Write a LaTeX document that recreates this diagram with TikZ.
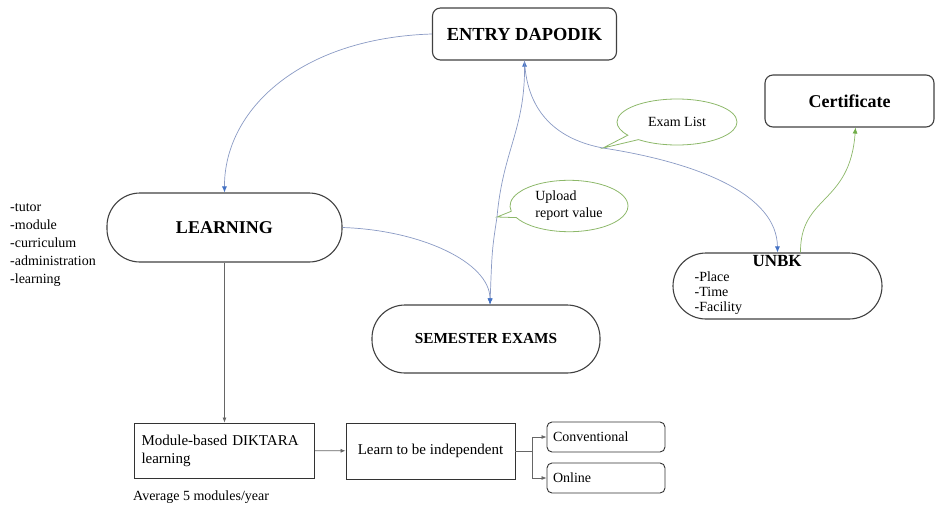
\documentclass[tikz,border=0pt]{standalone}
\usepackage{fontspec}
\setmainfont{Liberation Serif}
\usepackage{xcolor}
\usepackage{tikz}
\usetikzlibrary{shapes, shapes.callouts, arrows.meta, positioning, calc}

\definecolor{boxgray}{HTML}{404040}
\definecolor{linkblue}{HTML}{8A9AC4}
\definecolor{tipblue}{HTML}{4472C4}
\definecolor{calloutgreen}{HTML}{8DB86A}
\definecolor{tipgreen}{HTML}{70AD47}

\begin{document}
\begin{tikzpicture}[
    x=1pt, y=-1pt,
    pill/.style={rectangle, draw=boxgray, line width=1.1pt, rounded corners=33pt, align=center, font=\fontsize{18}{21}\selectfont\bfseries},
    card/.style={rectangle, draw=boxgray, line width=1.1pt, rounded corners=8pt, align=center, font=\fontsize{18}{21}\selectfont\bfseries},
    plainbox/.style={rectangle, draw=black!80, line width=0.9pt, font=\fontsize{15}{18}\selectfont},
    smallbox/.style={rectangle, draw=black!80, line width=0.9pt, rounded corners=5pt, align=left, font=\fontsize{14}{17}\selectfont},
    bubble/.style={ellipse callout, draw=calloutgreen, line width=0.8pt, align=left, font=\fontsize{14}{17}\selectfont},
    link/.style={>={Latex[length=6pt, width=5pt, color=tipblue]}, ->, draw=linkblue, line width=0.7pt},
    greenlink/.style={-{Latex[length=6pt, width=5pt, color=tipgreen]}, draw=calloutgreen, line width=0.7pt},
    flow/.style={-{Latex[length=5pt, width=4pt]}, draw=black!60, line width=0.7pt}
]
\useasboundingbox (0,0) rectangle (937,507);

% Nodes
\node[card, minimum width=184pt, minimum height=52pt, font=\fontsize{18.4}{21}\selectfont\bfseries] (entry) at (524.5,34) {ENTRY DAPODIK};
\node[pill, minimum width=235pt, minimum height=69pt] (learning) at (224.5,227.5) {LEARNING};
\node[pill, minimum width=228pt, minimum height=68pt, font=\fontsize{15.3}{18}\selectfont\bfseries] (semester) at (486,339) {SEMESTER EXAMS};
\node[pill, minimum width=209pt, minimum height=66pt] (unbk) at (777.5,286) {};
\node[anchor=north west, inner sep=0pt, text width=165pt, align=left, font=\fontsize{14}{15}\selectfont] (unbklist)
    at ([xshift=22pt, yshift=-3pt]unbk.north west)
    {\makebox[\hsize]{\fontsize{17}{17}\selectfont\bfseries UNBK}\\-Place\\-Time\\-Facility};
\node[card, minimum width=169pt, minimum height=52pt] (certificate) at (849.5,101) {Certificate};

\node[anchor=north west, align=left, inner sep=0pt, font=\fontsize{14}{18}\selectfont] (topics) at (10,203)
    {-tutor\\-module\\-curriculum\\-administration\\-learning};

\node[plainbox, minimum width=180pt, minimum height=55pt, text width=166pt, align=left] (module) at (224.5,450.5)
    {Module-based DIKTARA\\learning};
\node[anchor=base west, inner sep=0pt, font=\fontsize{14}{17}\selectfont] (average) at (133,500) {Average 5 modules/year};
\node[plainbox, minimum width=169pt, minimum height=56pt, align=center] (independent) at (430.5,451) {Learn to be independent};
\node[smallbox, minimum width=118pt, minimum height=30pt, text width=106pt] (conventional) at (606,437) {Conventional};
\node[smallbox, minimum width=118pt, minimum height=30pt, text width=106pt] (online) at (606,478) {Online};

% Callouts
\coordinate (examtip) at (603,148);
\coordinate (uploadtip) at (497,217);
\node[bubble, minimum width=120pt, minimum height=46pt, callout absolute pointer={(examtip)}] (examlist) at (677,122) {Exam List};
\node[bubble, minimum width=118pt, minimum height=50pt, callout absolute pointer={(uploadtip)}] (upload) at (569,206) {Upload\\report value};

% Connections
\draw[link] (entry.west) .. controls (300,38) and (224,110) .. (learning.north);
\draw[link] (learning.east) .. controls (420,230) and (490,262) .. ([xshift=4pt]semester.north);
\draw[link, <->] (entry.south) .. controls (525,130) and (503,150) .. (uploadtip)
    .. controls (492,250) .. ([xshift=4pt]semester.north);
\draw[link] (entry.south) .. controls (527,115) and (560,140) .. (examtip)
    .. controls (700,163) and (777,195) .. (unbk.north);
\draw[greenlink] ([xshift=23pt]unbk.north) .. controls (800,195) and (850,205) .. ([xshift=6pt]certificate.south);

\draw[flow] (learning.south) -- (learning.south |- module.north);
\draw[flow] (module) -- (independent);
\draw[flow] (independent.east) -- ++(17,0) |- (conventional.west);
\draw[flow] (independent.east) -- ++(17,0) |- (online.west);

\end{tikzpicture}
\end{document}
